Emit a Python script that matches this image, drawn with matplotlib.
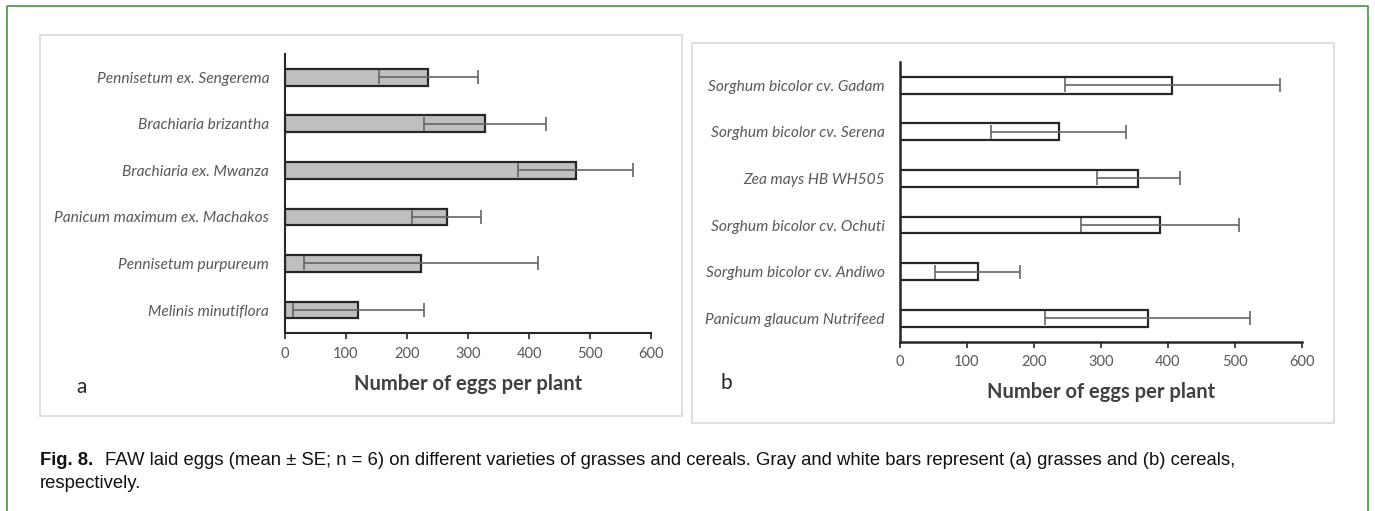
import matplotlib.pyplot as plt
from matplotlib.patches import Rectangle
import numpy as np

# panel a: grasses
grasses = ['Pennisetum ex. Sengerema', 'Brachiaria brizantha', 'Brachiaria ex. Mwanza',
           'Panicum maximum ex. Machakos', 'Pennisetum purpureum', 'Melinis minutiflora']
grass_mean = [235, 328, 476, 265, 223, 121]
grass_se = [81, 100, 94, 57, 191, 107]

# panel b: cereals
cereals = ['Sorghum bicolor cv. Gadam', 'Sorghum bicolor cv. Serena', 'Zea mays HB WH505',
           'Sorghum bicolor cv. Ochuti', 'Sorghum bicolor cv. Andiwo', 'Panicum glaucum Nutrifeed']
cereal_mean = [407, 237, 356, 388, 116, 370]
cereal_se = [161, 101, 62, 118, 63, 153]

xticks = [0, 100, 200, 300, 400, 500, 600]

W, H = 1375, 511
fig = plt.figure(figsize=(W / 100, H / 100), dpi=100)
fig.patch.set_facecolor('white')

font = ['Lato', 'DejaVu Sans']
txt_gray = '#595959'


def px(x0, y0, x1, y1):
    # pixel box (top-left origin) -> figure fraction rect
    return [x0 / W, 1 - y1 / H, (x1 - x0) / W, (y1 - y0) / H]


# outer green frame (left, top, right only)
fig.add_artist(plt.Line2D([7 / W, 7 / W, 1368 / W, 1368 / W], [0, 1 - 6 / H, 1 - 6 / H, 0],
                          transform=fig.transFigure, color='#4f9f4f', lw=1.3))

# panel boxes
for box in [px(40, 35, 682, 416), px(692, 43, 1334, 423)]:
    fig.add_artist(Rectangle((box[0], box[1]), box[2], box[3], transform=fig.transFigure,
                             fill=False, ec='#d9d9d9', lw=1.2))


def panel(rect, names, mean, se, fc, letter, lpos, spine_w):
    ax = fig.add_axes(rect)
    y = np.arange(len(names))[::-1]
    ax.barh(y, mean, height=0.36, color=fc, edgecolor='#262626', linewidth=1.6, zorder=2)
    ax.errorbar(mean, y, xerr=se, fmt='none', ecolor='#666666', elinewidth=1.2,
                capsize=5, capthick=1.2, zorder=3)
    ax.set_xlim(0, 600)
    ax.set_ylim(-0.5, len(names) - 0.5)
    ax.set_xticks(xticks)
    ax.set_yticks(y)
    ax.set_yticklabels(names, fontstyle='italic', family=font, fontsize=11.2, color=txt_gray)
    for lab in ax.get_xticklabels():
        lab.set_family(font)
        lab.set_fontsize(10.5)
        lab.set_color(txt_gray)
    ax.tick_params(axis='y', length=0, pad=11)
    ax.tick_params(axis='x', length=4, width=1.2, color='#262626', pad=6)
    for s in ['top', 'right']:
        ax.spines[s].set_visible(False)
    for s in ['left', 'bottom']:
        ax.spines[s].set_color('#262626')
        ax.spines[s].set_linewidth(spine_w)
    ax.set_facecolor('none')
    ax.set_xlabel('Number of eggs per plant', family=font, fontsize=14.5, fontweight='bold',
                  color='#404040', labelpad=9)
    fig.text(lpos[0] / W, 1 - lpos[1] / H, letter, family=font, fontsize=15,
             color='#262626', ha='left', va='center')
    return ax


panel(px(284.5, 54, 651.4, 333.3), grasses, grass_mean, grass_se, '#bfbfbf', 'a', (76, 387), 1.5)
panel(px(900, 62, 1301.6, 341.5), cereals, cereal_mean, cereal_se, 'white', 'b', (721, 383), 1.8)

# caption
cap_font = ['Liberation Sans', 'DejaVu Sans']
fig.text(40 / W, 1 - 465 / H, 'Fig. 8.', family=cap_font, fontsize=13.3, fontweight='bold',
         color='#111111', va='baseline', ha='left')
fig.text(105 / W, 1 - 465 / H,
         'FAW laid eggs (mean \u00b1 SE; n = 6) on different varieties of grasses and cereals. '
         'Gray and white bars represent (a) grasses and (b) cereals,',
         family=cap_font, fontsize=13.3, color='#111111', va='baseline', ha='left')
fig.text(40 / W, 1 - 488 / H, 'respectively.', family=cap_font, fontsize=13.3,
         color='#111111', va='baseline', ha='left')

fig.savefig('out.png', dpi=100)
